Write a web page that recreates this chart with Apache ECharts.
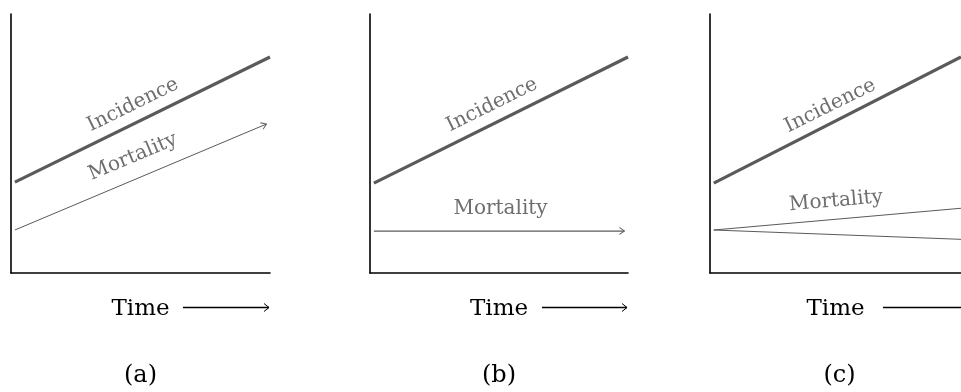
<!DOCTYPE html>
<html>
<head>
<meta charset="utf-8">
<script src="https://cdn.jsdelivr.net/npm/echarts@6/dist/echarts.min.js"></script>
<style>
  html, body { margin: 0; padding: 0; background: #fff; }
  #main { width: 961px; height: 392px; }
</style>
</head>
<body>
<div id="main"></div>
<script>
// panel names
const panelNames = ['(a)', '(b)', '(c)'];

// x positions (0 - 100 scale, same for every panel)
const incidenceX = [1.5, 100];
const mortalityX = [1.5, 98.6];
const mortalityXC = [1.5, 100];

// incidence, all panels rising
const incidenceA = [35.1, 83.4];
const incidenceB = [34.7, 83.4];
const incidenceC = [34.7, 83.4];

// mortality
const mortalityA = [16.6, 57.5];
const mortalityB = [16.2, 16.2];
const mortalityCUp = [16.6, 25.0];
const mortalityCDown = [16.6, 13.0];

// where the gray labels sit (data coords)
const incidenceLabelPos = [[47.1, 64.9], [47.3, 64.9], [47.9, 64.5]];
const mortalityLabelPos = [[47.1, 44.8], [50.6, 24.7], [50.2, 27.8]];

const serifFont = '"DejaVu Serif", "Liberation Serif", serif';
const gray = '#5a5a5a';

const angleOf = (xs, ys) => Math.atan2(ys[1] - ys[0], xs[1] - xs[0]) * 180 / Math.PI;

const pairs = (xs, ys) => xs.map((x, i) => [x, ys[i]]);

// open arrow head, tip in the middle of the symbol box
const arrowPath = 'path://M0,0L10,5L0,10M20,5L20,5';

const withArrow = (xs, ys) => {
    const pts = pairs(xs, ys);
    const last = pts[pts.length - 1];
    pts[pts.length - 1] = {
        value: last,
        symbol: arrowPath,
        symbolSize: [10, 7],
        symbolRotate: angleOf(xs, ys),
        itemStyle: { color: 'transparent', borderColor: gray, borderWidth: 1 },
    };
    return pts;
};

const grids = [
    { left: 11, top: 14, width: 259, height: 259 },
    { left: 370, top: 14, width: 258, height: 259 },
    { left: 710, top: 14, width: 259, height: 259 },
];

const xAxes = grids.map((g, i) => ({
    gridIndex: i,
    type: 'value',
    min: 0,
    max: 100,
    name: 'Time',
    nameLocation: 'middle',
    nameGap: 25,
    nameTextStyle: { fontFamily: serifFont, fontSize: 23, color: '#000' },
    axisLine: { show: true, lineStyle: { color: '#000', width: 1.6 } },
    axisTick: { show: false },
    axisLabel: { show: false },
    splitLine: { show: false },
}));

const yAxes = grids.map((g, i) => ({
    gridIndex: i,
    type: 'value',
    min: 0,
    max: 100,
    axisLine: { show: true, lineStyle: { color: '#000', width: 1.6 } },
    axisTick: { show: false },
    axisLabel: { show: false },
    splitLine: { show: false },
}));

const textMark = (pos, text, rotate) => ({
    symbol: 'circle',
    symbolSize: 1,
    silent: true,
    itemStyle: { color: 'transparent' },
    label: {
        show: true,
        formatter: text,
        position: 'inside',
        rotate: rotate,
        fontFamily: serifFont,
        fontSize: 20,
        color: '#6e6e6e',
    },
    data: [{ coord: pos }],
});

const incidenceSets = [incidenceA, incidenceB, incidenceC];
const series = [];

incidenceSets.forEach((ys, i) => {
    series.push({
        type: 'line',
        xAxisIndex: i,
        yAxisIndex: i,
        symbol: 'none',
        silent: true,
        data: pairs(incidenceX, ys),
        lineStyle: { color: gray, width: 3.2 },
        markPoint: textMark(incidenceLabelPos[i], 'Incidence', angleOf(incidenceX, ys)),
    });
});

series.push({
    type: 'line', xAxisIndex: 0, yAxisIndex: 0, symbol: 'none', silent: true,
    data: withArrow(mortalityX, mortalityA),
    lineStyle: { color: gray, width: 1 },
    markPoint: textMark(mortalityLabelPos[0], 'Mortality', angleOf(mortalityX, mortalityA)),
});
series.push({
    type: 'line', xAxisIndex: 1, yAxisIndex: 1, symbol: 'none', silent: true,
    data: withArrow(mortalityX, mortalityB),
    lineStyle: { color: gray, width: 1.2 },
    markPoint: textMark(mortalityLabelPos[1], 'Mortality', 0),
});
series.push({
    type: 'line', xAxisIndex: 2, yAxisIndex: 2, symbol: 'none', silent: true,
    data: pairs(mortalityXC, mortalityCUp),
    lineStyle: { color: gray, width: 1 },
    markPoint: textMark(mortalityLabelPos[2], 'Mortality', angleOf(mortalityXC, mortalityCUp)),
});
series.push({
    type: 'line', xAxisIndex: 2, yAxisIndex: 2, symbol: 'none', silent: true,
    data: pairs(mortalityXC, mortalityCDown),
    lineStyle: { color: gray, width: 1 },
});

// "Time ->" arrows and panel letters
const timeArrows = [[183, 269], [542, 627], [883, 975]];
const graphic = [];
timeArrows.forEach((a, i) => {
    graphic.push({
        type: 'line', silent: true,
        shape: { x1: a[0], y1: 307.5, x2: a[1], y2: 307.5 },
        style: { stroke: '#000', lineWidth: 1.4 },
    });
    graphic.push({
        type: 'polyline', silent: true,
        shape: { points: [[a[1] - 5, 303.5], [a[1], 307.5], [a[1] - 5, 311.5]] },
        style: { stroke: '#000', lineWidth: 1, fill: null },
    });
    const g = grids[i];
    graphic.push({
        type: 'text', silent: true,
        x: g.left + g.width / 2,
        y: 376,
        style: {
            text: panelNames[i],
            font: '24px ' + serifFont,
            fill: '#000',
            textAlign: 'center',
            textVerticalAlign: 'middle',
        },
    });
});

const myChart = echarts.init(document.getElementById('main'));
myChart.setOption({
    animation: false,
    backgroundColor: '#fff',
    grid: grids,
    xAxis: xAxes,
    yAxis: yAxes,
    series: series,
    graphic: graphic,
});
</script>
</body>
</html>
